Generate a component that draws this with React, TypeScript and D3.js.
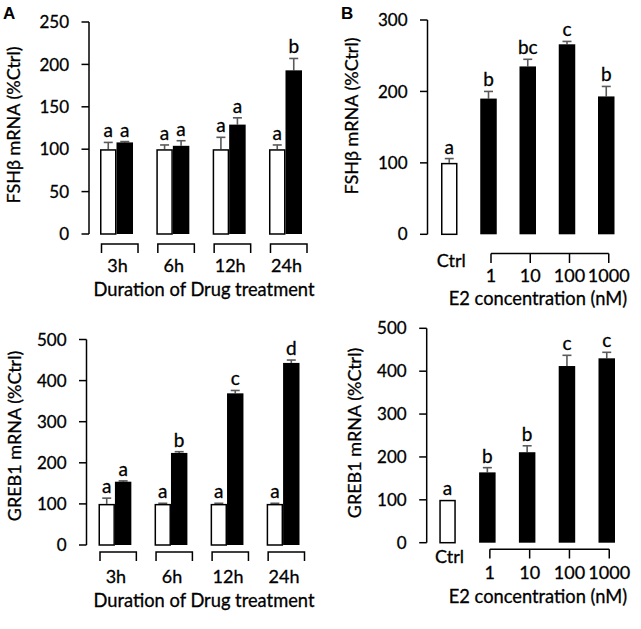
import React from "react";
import * as d3 from "d3";

// ---------- DATA ----------
const timeCategories = ["3h", "6h", "12h", "24h"];
const groupKeys = ["ctrl", "drug"];

const fshTimeCtrl = [100, 100, 100, 100];
const fshTimeCtrlErr = [8, 5, 14, 5];
const fshTimeDrug = [108, 104, 129, 193];
const fshTimeDrugErr = [1, 6, 8, 14];
const fshTimeCtrlLetters = ["a", "a", "a", "a"];
const fshTimeDrugLetters = ["a", "a", "a", "b"];

const grebTimeCtrl = [100, 100, 100, 100];
const grebTimeCtrlErr = [14, 1.5, 1.5, 1.5];
const grebTimeDrug = [154, 224, 369, 443];
const grebTimeDrugErr = [2, 3, 7, 7];
const grebTimeCtrlLetters = ["a", "a", "a", "a"];
const grebTimeDrugLetters = ["a", "b", "c", "d"];

const concCategories = ["Ctrl", "1", "10", "100", "1000"];
const fshConc = [100, 190, 235, 266, 193];
const fshConcErr = [6, 10, 10, 4, 14];
const fshConcLetters = ["a", "b", "bc", "c", "b"];

const grebConc = [100, 164, 211, 412, 430];
const grebConcErr = [0, 11, 15, 25, 14];
const grebConcLetters = ["a", "b", "b", "c", "c"];

const ticksFshTime = [0, 50, 100, 150, 200, 250];
const ticksGreb = [0, 100, 200, 300, 400, 500];
const ticksFshConc = [0, 100, 200, 300];

const xTitleTime = "Duration of Drug treatment";
const xTitleConc = "E2 concentration (nM)";
const yTitleFsh = "FSHβ mRNA (%Ctrl)";
const yTitleGreb = "GREB1 mRNA (%Ctrl)";

// ---------- STYLE ----------
const FONT = "Lato, 'Open Sans', 'DejaVu Sans', sans-serif";
const TXT = "#000";
const ERR = "#5a5a5a";
const textStyle = { stroke: "#000", strokeWidth: 0.3 } as const;

type Bar = { x: number; w: number; v: number; e: number; fill: string; letter: string };

function YAxis({ x, y, ticks }: { x: number; y: d3.ScaleLinear<number, number>; ticks: number[] }) {
  const [r0, r1] = y.range();
  return (
    <g>
      <line x1={x} x2={x} y1={r0} y2={r1} stroke="#000" strokeWidth={1.5} />
      {ticks.map((t) => (
        <g key={t}>
          <line x1={x - 7.5} x2={x} y1={y(t)} y2={y(t)} stroke="#000" strokeWidth={1.5} />
          <text x={x - 20} y={y(t)} dy="0.36em" textAnchor="end" fontSize={17} fontFamily={FONT} fill={TXT} {...textStyle}>
            {t}
          </text>
        </g>
      ))}
    </g>
  );
}

function Bars({ bars, y }: { bars: Bar[]; y: d3.ScaleLinear<number, number> }) {
  const y0 = y(0);
  return (
    <g>
      {bars.map((b, i) => {
        const cx = b.x + b.w / 2;
        const top = y(b.v);
        const et = y(b.v + b.e);
        const white = b.fill === "#fff";
        return (
          <g key={i}>
            {b.e > 0 && (
              <g stroke={ERR} strokeWidth={1.6}>
                <line x1={cx} x2={cx} y1={top} y2={et} />
                <line x1={cx - 4.5} x2={cx + 4.5} y1={et} y2={et} />
              </g>
            )}
            <rect
              x={white ? b.x + 0.75 : b.x}
              y={white ? top + 0.75 : top}
              width={white ? b.w - 1.5 : b.w}
              height={white ? y0 - top - 0.75 : y0 - top}
              fill={b.fill}
              stroke={white ? "#000" : "none"}
              strokeWidth={1.5}
            />
            <text x={cx} y={et - 5} textAnchor="middle" fontSize={19} fontFamily={FONT} fill={TXT} {...textStyle}>
              {b.letter}
            </text>
          </g>
        );
      })}
    </g>
  );
}

function YTitle({ x, cy, text }: { x: number; cy: number; text: string }) {
  return (
    <text
      transform={`translate(${x},${cy}) rotate(-90)`}
      textAnchor="middle"
      fontSize={18}
      fontFamily={FONT}
      fill={TXT}
      {...textStyle}
    >
      {text}
    </text>
  );
}

function TimePanel(props: {
  axisX: number; y0: number; yTop: number; max: number; ticks: number[];
  xr: [number, number]; ctrl: number[]; ctrlErr: number[]; drug: number[]; drugErr: number[];
  ctrlL: string[]; drugL: string[]; brTop: number; brBot: number; yTitle: string; yTitleX: number; yTitleCy: number;
}) {
  const y = d3.scaleLinear().domain([0, props.max]).range([props.y0, props.yTop]);
  const x = d3.scaleBand<string>().domain(timeCategories).range(props.xr).paddingInner(0.414).paddingOuter(0);
  const xs = d3.scaleBand<string>().domain(groupKeys).range([0, x.bandwidth()]);
  const bars: Bar[] = [];
  timeCategories.forEach((c, i) => {
    bars.push({ x: x(c)! + xs("ctrl")!, w: xs.bandwidth(), v: props.ctrl[i], e: props.ctrlErr[i], fill: "#fff", letter: props.ctrlL[i] });
    bars.push({ x: x(c)! + xs("drug")!, w: xs.bandwidth(), v: props.drug[i], e: props.drugErr[i], fill: "#000", letter: props.drugL[i] });
  });
  const bw = x.bandwidth();
  return (
    <g>
      <YAxis x={props.axisX} y={y} ticks={props.ticks} />
      <Bars bars={bars} y={y} />
      {timeCategories.map((c) => {
        const l = x(c)! + 1.5;
        const r = x(c)! + bw + 5;
        return (
          <g key={c}>
            <path
              d={`M${l},${props.brBot}V${props.brTop}H${r}V${props.brBot}`}
              fill="none"
              stroke="#000"
              strokeWidth={1.5}
            />
            <text x={x(c)! + bw / 2 + 1} y={props.y0 + 37.5} textAnchor="middle" fontSize={18} fontFamily={FONT} fill={TXT} {...textStyle}>
              {c}
            </text>
          </g>
        );
      })}
      <text x={204} y={props.y0 + 62} textAnchor="middle" fontSize={18.3} fontFamily={FONT} fill={TXT} {...textStyle}>
        {xTitleTime}
      </text>
      <YTitle x={props.yTitleX} cy={props.yTitleCy} text={props.yTitle} />
    </g>
  );
}

function ConcPanel(props: {
  axisX: number; y0: number; yTop: number; max: number; ticks: number[];
  xr: [number, number]; vals: number[]; errs: number[]; letters: string[];
  brY: number; brTickY: number; ctrlY: number; numY: number; titleY: number;
  yTitle: string; yTitleX: number; yTitleCy: number;
}) {
  const barW = 16.5;
  const step = (props.xr[1] - props.xr[0] - barW) / (concCategories.length - 1);
  const y = d3.scaleLinear().domain([0, props.max]).range([props.y0, props.yTop]);
  const x = d3.scaleBand<string>().domain(concCategories).range(props.xr).paddingInner(1 - barW / step).paddingOuter(0);
  const bars: Bar[] = concCategories.map((c, i) => ({
    x: x(c)!, w: x.bandwidth(), v: props.vals[i], e: props.errs[i], fill: i === 0 ? "#fff" : "#000", letter: props.letters[i],
  }));
  const doses = concCategories.slice(1);
  const tx = (c: string) => x(c)! + x.bandwidth() / 2 + 2.5;
  return (
    <g>
      <YAxis x={props.axisX} y={y} ticks={props.ticks} />
      <Bars bars={bars} y={y} />
      <line x1={tx(doses[0])} x2={tx(doses[doses.length - 1])} y1={props.brY} y2={props.brY} stroke="#000" strokeWidth={1.5} />
      {doses.map((c) => (
        <g key={c}>
          <line x1={tx(c)} x2={tx(c)} y1={props.brY} y2={props.brTickY} stroke="#000" strokeWidth={1.5} />
          <text x={tx(c)} y={props.numY} textAnchor="middle" fontSize={18} fontFamily={FONT} fill={TXT} {...textStyle}>
            {c}
          </text>
        </g>
      ))}
      <text x={x("Ctrl")! + x.bandwidth() / 2 + 2} y={props.ctrlY} textAnchor="middle" fontSize={18} fontFamily={FONT} fill={TXT} {...textStyle}>
        Ctrl
      </text>
      <text x={538} y={props.titleY} textAnchor="middle" fontSize={18.3} fontFamily={FONT} fill={TXT} {...textStyle}>
        {xTitleConc}
      </text>
      <YTitle x={props.yTitleX} cy={props.yTitleCy} text={props.yTitle} />
    </g>
  );
}

export default function App() {
  return (
    <svg
      width={641}
      height={629}
      viewBox="0 0 641 629"
      style={{ position: "absolute", left: 0, top: 0, background: "#fff" }}
    >
      <rect width={641} height={629} fill="#fff" />
      <text x={3} y={18.5} fontSize={17} fontWeight="bold" fontFamily="'Liberation Sans', Arial, sans-serif" fill="#000">A</text>
      <text x={341} y={18.5} fontSize={17} fontWeight="bold" fontFamily="'Liberation Sans', Arial, sans-serif" fill="#000">B</text>

      <TimePanel
        axisX={89} y0={234} yTop={22} max={250} ticks={ticksFshTime} xr={[100, 302]}
        ctrl={fshTimeCtrl} ctrlErr={fshTimeCtrlErr} drug={fshTimeDrug} drugErr={fshTimeDrugErr}
        ctrlL={fshTimeCtrlLetters} drugL={fshTimeDrugLetters}
        brTop={244} brBot={253} yTitle={yTitleFsh} yTitleX={20} yTitleCy={125}
      />
      <TimePanel
        axisX={86.5} y0={545} yTop={339.5} max={500} ticks={ticksGreb} xr={[98.5, 299.5]}
        ctrl={grebTimeCtrl} ctrlErr={grebTimeCtrlErr} drug={grebTimeDrug} drugErr={grebTimeDrugErr}
        ctrlL={grebTimeCtrlLetters} drugL={grebTimeDrugLetters}
        brTop={552} brBot={561} yTitle={yTitleGreb} yTitleX={21} yTitleCy={436}
      />
      <ConcPanel
        axisX={427.5} y0={234.3} yTop={20} max={300} ticks={ticksFshConc} xr={[441, 614.5]}
        vals={fshConc} errs={fshConcErr} letters={fshConcLetters}
        brY={253.5} brTickY={263} ctrlY={266.7} numY={281.7} titleY={305}
        yTitle={yTitleFsh} yTitleX={358} yTitleCy={116}
      />
      <ConcPanel
        axisX={426.7} y0={542.7} yTop={328.3} max={500} ticks={ticksGreb} xr={[439.3, 615]}
        vals={grebConc} errs={grebConcErr} letters={grebConcLetters}
        brY={549.3} brTickY={558.5} ctrlY={563.3} numY={579.3} titleY={603.3}
        yTitle={yTitleGreb} yTitleX={361} yTitleCy={433}
      />
    </svg>
  );
}
